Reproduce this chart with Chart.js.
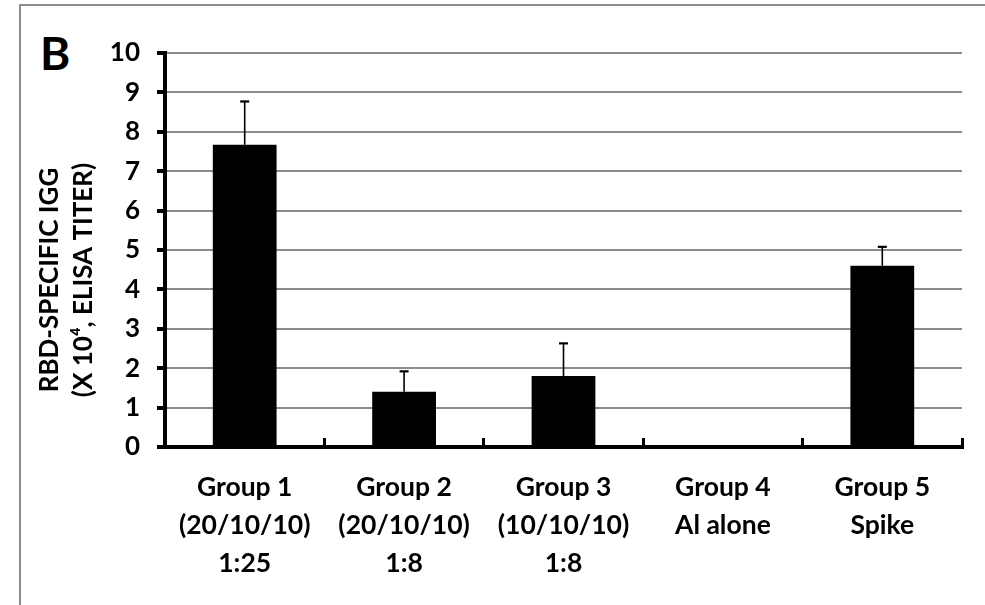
<!DOCTYPE html>
<html><head><meta charset="utf-8">
<script src="https://cdn.jsdelivr.net/npm/chart.js@4"></script>
<style>
html,body{margin:0;padding:0;background:#fff;}
#wrap{position:relative;width:985px;height:605px;overflow:hidden;background:#fff;}
#frame{position:absolute;left:19px;top:4px;width:1000px;height:700px;border-left:2px solid #8e8e8e;border-top:2px solid #8e8e8e;}
#panel{position:absolute;left:40px;top:25px;font:bold 46px Lato;color:#000;}
canvas{position:absolute;left:0;top:0;}
</style></head>
<body><div id="wrap"><div id="frame"></div><div id="panel">B</div><canvas id="c" width="985" height="605"></canvas></div>
<script>
const categories = [
  ["Group 1", "(20/10/10)", "1:25"],
  ["Group 2", "(20/10/10)", "1:8"],
  ["Group 3", "(10/10/10)", "1:8"],
  ["Group 4", "Al alone"],
  ["Group 5", "Spike"]
];
const meanTiter = [7.67, 1.4, 1.8, 0, 4.6];
const errorUp = [1.1, 0.52, 0.83, 0, 0.48];
const yMin = 0, yMax = 10, yStep = 1;
const yTitle = ["RBD-SPECIFIC IGG", "(X 10\u2074, ELISA TITER)"];

const errorBars = {
  id: 'errorBars',
  afterDatasetsDraw(chart) {
    const ctx = chart.ctx, ys = chart.scales.y;
    const meta = chart.getDatasetMeta(0);
    ctx.save();
    ctx.strokeStyle = '#000';
    meta.data.forEach((bar, i) => {
      if (!errorUp[i]) return;
      const x = bar.x;
      const y0 = ys.getPixelForValue(meanTiter[i]);
      const y1 = ys.getPixelForValue(meanTiter[i] + errorUp[i]);
      ctx.lineWidth = 1.6;
      ctx.beginPath();
      ctx.moveTo(x, y0); ctx.lineTo(x, y1);
      ctx.stroke();
      ctx.lineWidth = 2.2;
      ctx.beginPath();
      ctx.moveTo(x - 4.5, y1); ctx.lineTo(x + 4.5, y1);
      ctx.stroke();
    });
    ctx.restore();
  }
};

const yTitlePlugin = {
  id: 'yTitlePlugin',
  afterDraw(chart) {
    const ctx = chart.ctx;
    const cy = 280;
    const xs = [50, 84];
    ctx.save();
    ctx.fillStyle = '#000';
    ctx.font = 'bold 26px Lato';
    ctx.textAlign = 'center';
    ctx.textBaseline = 'middle';
    yTitle.forEach((t, k) => {
      ctx.save();
      ctx.translate(xs[k], cy);
      ctx.rotate(-Math.PI / 2);
      ctx.fillText(t, 0, 0);
      ctx.restore();
    });
    ctx.restore();
  }
};

new Chart(document.getElementById('c'), {
  type: 'bar',
  data: {
    labels: categories,
    datasets: [{
      data: meanTiter,
      backgroundColor: '#000',
      borderWidth: 0,
      barPercentage: 0.4,
      categoryPercentage: 1
    }]
  },
  options: {
    responsive: false,
    animation: false,
    layout: { padding: { top: 53, right: 23, left: 0, bottom: 0 } },
    plugins: { legend: { display: false }, tooltip: { enabled: false } },
    scales: {
      x: {
        offset: true,
        afterFit(s) { s.height = 158; },
        grid: {
          drawOnChartArea: false,
          drawTicks: true,
          tickLength: -9,
          tickWidth: 3,
          tickColor: '#000'
        },
        border: { display: true, color: '#000', width: 4 },
        ticks: {
          color: '#000',
          padding: 30,
          maxRotation: 0,
          autoSkip: false,
          font: { family: 'Lato', weight: 'bold', size: 26.5, lineHeight: 1.434 }
        }
      },
      y: {
        min: yMin, max: yMax,
        afterFit(s) { s.width = 165; },
        grid: {
          color: '#8c8c8c',
          lineWidth: 2,
          tickColor: '#000',
          tickWidth: 4,
          tickLength: 8
        },
        border: { display: true, color: '#000', width: 4 },
        ticks: {
          stepSize: yStep,
          color: '#000',
          padding: 17,
          font: { family: 'Lato', weight: 'bold', size: 26 }
        }
      }
    }
  },
  plugins: [errorBars, yTitlePlugin]
});
</script>
</body></html>
